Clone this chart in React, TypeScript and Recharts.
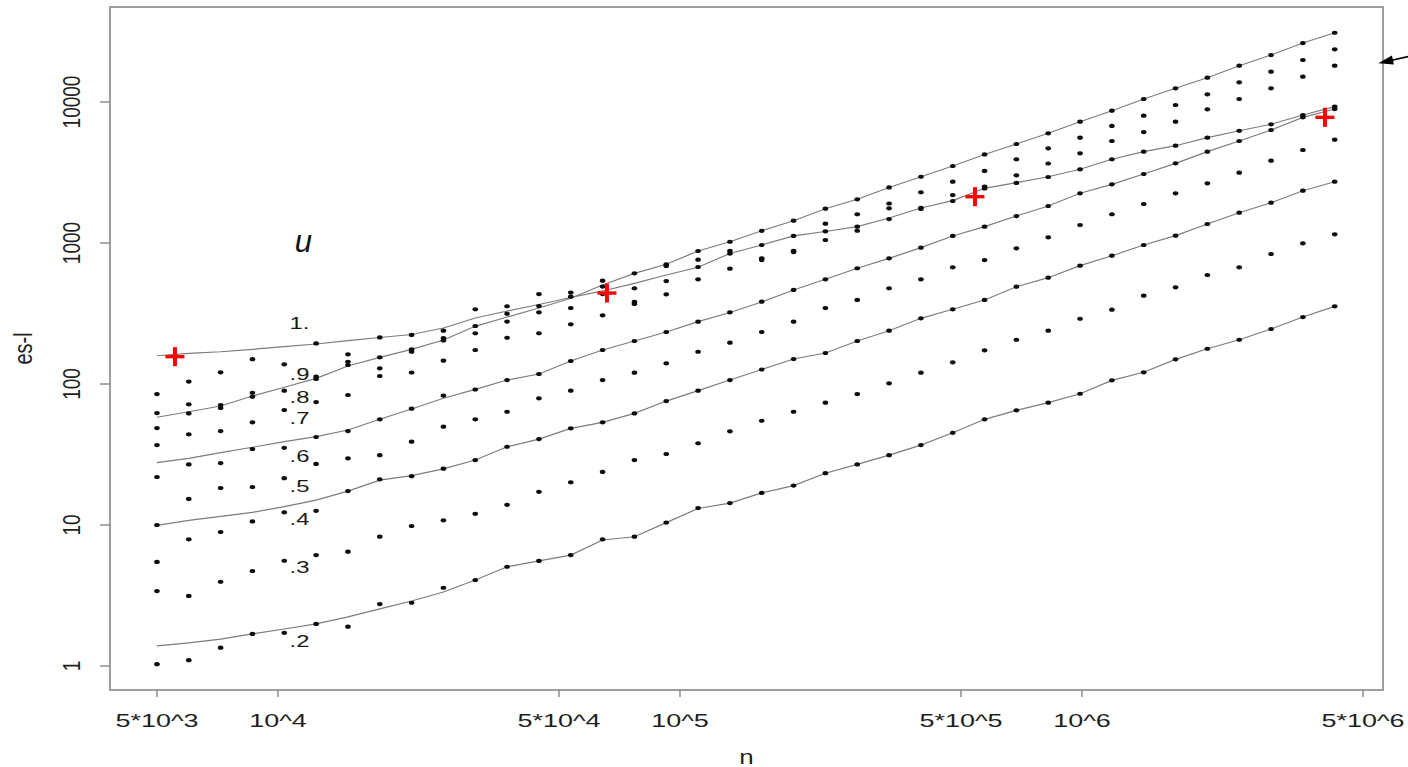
import React from 'react';
import { ScatterChart, Scatter, XAxis, YAxis, ReferenceArea } from 'recharts';

// sample sizes n (one column of dots each)
const nValues = [
  5000, 6000, 7200, 8640, 10368, 12442, 14930, 17916, 21499, 25799, 30959, 37150, 44581,
  53497, 64196, 77035, 92442, 110931, 133117, 159740, 191688, 230026, 276031, 331237,
  397484, 476981, 572377, 686853, 824223, 989068, 1186881, 1424257, 1709109, 2050931,
  2461117, 2953340, 3544008, 4252810,
];

// dots, read column by column: pts1 is the top dot of each column, pts9 the bottom one
const pts1 = [84.9, 104, 121, 150, null, 194, 162.5, 214, 223, 239, 339, 356, 434, 445, 541, 610, 706, 878, 1021, 1221, 1439, 1751, 2042, 2477, 2951, 3516, 4246, 5036, 5998, 7247, 8676, 10500, 12510, 14870, 18090, 21530, 26190, 30980];
const pts2 = [62.2, 71.8, 71.0, 86.7, 138, 112.7, 143.9, 154.6, 176.2, 211.8, 257.8, 315.2, 357.3, 416, 491, 477.5, 687, 761.6, 881.5, 968, 1122, 1371, 1599, 1906, 2291, 2721, 3243, 3925, 4695, 5585, 6761, 7998, 9523, 11340, 13800, 16410, 19860, 23650];
const pts3 = [48.7, 61.9, 67.6, 81.3, 89.7, 108.5, 136.4, 129.2, 169.4, 203.6, 229, 277.4, 322.6, 346, 434.5, 381.9, 537.5, 676, 839.5, 778.6, 881.5, 1211, 1306, 1762, 1779, 2189, 2517, 3020, 3662, 4326, 5288, 6124, 7247, 8873, 10500, 12510, 15130, 18090];
const pts4 = [36.9, 44.0, 46.4, 53.5, 65.4, 74.5, 83.6, 114, 120.7, 146.3, 174.2, 212.9, 229, 265, 307, 369.3, 432.5, 553, 657.3, 757, 863, 1050, 1222, 1479, 1742, 1986, 2437, 2666, 2939, 3333, 3925, 4444, 4898, 5585, 6252, 6950, 8085, 9268];
const pts5 = [21.9, 26.9, 27.5, 34.6, 35.3, 42.1, 46.4, 56.2, 66.8, 82.8, 91.4, 106.7, 117.8, 145.6, 174.2, 201.8, 233.8, 276.7, 322.6, 383.6, 464.5, 553, 662, 778.6, 926.5, 1122, 1306, 1553, 1830, 2252, 2608, 3085, 3674, 4444, 5288, 6329, 7786, 8914];
const pts6 = [10, 15.3, 18.3, 18.6, 21.5, 27.1, 29.7, 31.3, 39.0, 49.8, 56.2, 63.6, 79.2, 89.7, 106.7, 120.3, 140.3, 169.4, 196.3, 233.8, 276.7, 346, 394.5, 477.5, 553, 672.5, 757, 916.7, 1097, 1342, 1599, 1891, 2252, 2650, 3153, 3837, 4567, 5404];
const pts7 = [5.47, 7.92, 8.92, 10.6, 12.3, 12.6, 17.4, 21.1, 22.2, 25.1, 28.9, 35.9, 40.7, 48.5, 53.5, 61.9, 75.7, 89.7, 106.7, 126.7, 150.4, 166, 201.8, 238.8, 292.4, 338.8, 394.5, 489.8, 567.6, 690.5, 812.8, 968, 1127, 1364, 1640, 1931, 2349, 2721];
const pts8 = [3.40, 3.14, 3.96, 4.72, 5.58, 6.12, 6.47, 8.26, 9.84, 10.8, 12.0, 13.9, 17.2, 20.1, 23.8, 28.9, 31.9, 38.0, 46.2, 54.9, 63.6, 73.7, 84.9, 101.2, 120.3, 142.6, 173.4, 206.1, 238.8, 290.4, 336.5, 422.8, 485.2, 592.9, 672.5, 835.5, 995, 1153];
const pts9 = [1.03, 1.10, 1.35, 1.69, 1.72, 1.99, 1.90, 2.75, 2.81, 3.59, 4.07, 5.06, 5.56, 6.12, 7.92, 8.26, 10.4, 13.2, 14.3, 16.9, 19.05, 23.3, 26.9, 31.3, 36.9, 45.1, 56.2, 65.1, 73.7, 85.3, 106.2, 121.1, 149.6, 177.9, 206.1, 245.5, 298.5, 355.6];

// the five gray curves
const curveTop = [58.1, 63.6, 69.8, 82.2, 94.8, 109.7, 134.2, 154.6, 176.2, 205.2, 256.6, 298.5, 346, 405.5, 503.8, 609.5, 706.3, 877.5, 1021, 1221, 1439, 1751, 2042, 2477, 2951, 3516, 4246, 5036, 5998, 7247, 8676, 10500, 12510, 14870, 18090, 21530, 26190, 30980];
const curveFlat = [158.7, 165.1, 169.4, 176.2, 184, 192.2, 202.9, 213.8, 224.4, 249.6, 293.8, 329.6, 366.4, 410.5, 457, 517.8, 592.9, 672.5, 843, 968, 1122, 1207, 1306, 1504, 1771, 2000, 2443, 2678, 2951, 3333, 3925, 4444, 4898, 5585, 6252, 6950, 8085, 9268];
const curveMid = [27.7, 29.7, 32.6, 35.6, 39.0, 42.3, 47.2, 56.2, 66.5, 79.2, 91.7, 106.7, 117.8, 145.6, 174.2, 201.8, 233.8, 276.7, 321.4, 381.9, 464.5, 553, 662, 778.6, 926.5, 1122, 1306, 1553, 1830, 2252, 2608, 3085, 3674, 4444, 5288, 6329, 7786, 8914];
const curveLow = [9.95, 10.8, 11.5, 12.3, 13.5, 15.0, 17.4, 20.8, 22.4, 25.0, 28.9, 35.9, 40.7, 48.5, 53.5, 61.9, 75.7, 89.7, 106.7, 126.7, 150.4, 166, 201.8, 238.8, 292.4, 338.8, 394.5, 489.8, 567.6, 690.5, 812.8, 968, 1127, 1364, 1640, 1931, 2349, 2721];
const curveBottom = [1.39, 1.46, 1.55, 1.69, 1.83, 1.99, 2.23, 2.54, 2.89, 3.35, 4.07, 5.06, 5.56, 6.12, 7.83, 8.26, 10.4, 13.1, 14.3, 16.9, 19.05, 23.3, 26.9, 31.3, 36.9, 45.1, 56.2, 65.1, 73.7, 85.3, 106.2, 121.1, 149.6, 177.9, 206.1, 245.5, 298.5, 355.6];

// red crosses
const crossN = [5543, 65820, 541800, 4022000];
const crossY = [156.3, 441.8, 2130, 7786];

// u labels
const uLabels = ['1.', '.9', '.8', '.7', '.6', '.5', '.4', '.3', '.2'];
const uLabelY = [269.4, 118.1, 80.9, 57.4, 31.2, 19.1, 11.0, 5.04, 1.52];
const uLabelN = 11310;

const xTicks = [5000, 10000, 50000, 100000, 500000, 1000000, 5000000];
const xTickLabels = ['5*10^3', '10^4', '5*10^4', '10^5', '5*10^5', '10^6', '5*10^6'];
const yTicks = [1, 10, 100, 1000, 10000];
const yTickLabels = ['1', '10', '100', '1000', '10000'];

const X_MIN = 3821;
const X_MAX = 5608000;
const Y_MIN = 0.676;
const Y_MAX = 47180;

const FONT = '"Liberation Sans", Arial, Helvetica, sans-serif';
const AXIS_GRAY = '#8e8e8e';
const CURVE_GRAY = '#7c7c7c';

const toPoints = (vals: (number | null)[]) =>
  nValues.map((n, i) => ({ x: n, y: vals[i] })).filter((p) => p.y != null);

const dotRows = [pts1, pts2, pts3, pts4, pts5, pts6, pts7, pts8, pts9];
const curves = [curveTop, curveFlat, curveMid, curveLow, curveBottom];
const crossData = crossN.map((n, i) => ({ x: n, y: crossY[i] }));
const labelData = uLabels.map((label, i) => ({ x: uLabelN, y: uLabelY[i], label }));

const Dot = (props: any) => (
  <ellipse cx={props.cx} cy={props.cy} rx={2.8} ry={2.1} fill="#0d0d0d" />
);

const NoDot = () => <g />;

const Cross = (props: any) => {
  const { cx, cy } = props;
  return (
    <g fill="#ff0000">
      <rect x={cx - 9.5} y={cy - 1.7} width={19} height={3.4} />
      <rect x={cx - 2} y={cy - 9.5} width={4} height={19} />
    </g>
  );
};

const ULabel = (props: any) => (
  <text
    transform={`translate(${props.cx} ${props.cy}) scale(1.4 1)`}
    textAnchor="middle"
    dominantBaseline="central"
    fontSize={17}
    fontFamily={FONT}
    fill="#1a1a1a"
  >
    {props.payload.label}
  </text>
);

const UTitle = (props: any) => (
  <text
    x={props.cx}
    y={props.cy}
    textAnchor="middle"
    dominantBaseline="central"
    fontSize={31}
    fontStyle="italic"
    fontFamily={FONT}
    fill="#111"
  >
    u
  </text>
);

// arrow at the top right, drawn from its tip
const Arrow = (props: any) => {
  const { cx, cy } = props;
  return (
    <g>
      <line x1={cx + 8} y1={cy - 1.8} x2={cx + 31} y2={cy - 6.9} stroke="#000" strokeWidth={1.6} />
      <polygon
        points={`${cx},${cy} ${cx + 15.6},${cy + 1.1} ${cx + 13.7},${cy - 7.7}`}
        fill="#000"
      />
    </g>
  );
};

const XTick = (props: any) => {
  const { x, y, payload } = props;
  const i = xTicks.indexOf(payload.value);
  return (
    <text
      transform={`translate(${x} ${y + 28}) scale(1.42 1)`}
      textAnchor="middle"
      fontSize={19}
      fontFamily={FONT}
      fill="#1f1f1f"
    >
      {xTickLabels[i]}
    </text>
  );
};

const YTick = (props: any) => {
  const { x, y, payload } = props;
  const i = yTicks.indexOf(payload.value);
  return (
    <text
      transform={`translate(${x - 18} ${y}) scale(1.25 1) rotate(-90)`}
      textAnchor="middle"
      fontSize={19}
      fontFamily={FONT}
      fill="#1f1f1f"
    >
      {yTickLabels[i]}
    </text>
  );
};

const App = () => {
  return (
    <div style={{ position: 'absolute', left: 0, top: 0, width: 1408, height: 767, background: '#fff' }}>
      <ScatterChart width={1408} height={767} margin={{ top: 7, right: 25, bottom: 0, left: 0 }}>
        <XAxis
          type="number"
          dataKey="x"
          scale="log"
          domain={[X_MIN, X_MAX]}
          ticks={xTicks}
          interval={0}
          height={77}
          axisLine={false}
          tickSize={7}
          tickLine={{ stroke: AXIS_GRAY, strokeWidth: 1.5 }}
          tick={<XTick />}
          label={(p: any) => {
            const vb = p.viewBox;
            return (
              <text
                transform={`translate(${vb.x + vb.width / 2} ${vb.y + 74}) scale(1.3 1)`}
                textAnchor="middle"
                fontSize={20}
                fontFamily={FONT}
                fill="#1f1f1f"
              >
                n
              </text>
            );
          }}
        />
        <YAxis
          type="number"
          dataKey="y"
          scale="log"
          domain={[Y_MIN, Y_MAX]}
          ticks={yTicks}
          interval={0}
          width={110}
          axisLine={false}
          tickSize={10}
          tickLine={{ stroke: AXIS_GRAY, strokeWidth: 1.5 }}
          tick={<YTick />}
          label={(p: any) => {
            const vb = p.viewBox;
            return (
              <text
                transform={`translate(31.5 ${vb.y + vb.height / 2}) scale(1.28 1) rotate(-90)`}
                textAnchor="middle"
                fontSize={20}
                fontFamily={FONT}
                fill="#1f1f1f"
              >
                es-l
              </text>
            );
          }}
        />
        <ReferenceArea
          x1={X_MIN}
          x2={X_MAX}
          y1={Y_MIN}
          y2={Y_MAX}
          fill="none"
          fillOpacity={0}
          stroke="#9e9e9e"
          strokeWidth={2}
          ifOverflow="visible"
        />
        {curves.map((c, i) => (
          <Scatter
            key={`curve-${i}`}
            data={toPoints(c)}
            line={{ stroke: CURVE_GRAY, strokeWidth: 1.2 }}
            lineType="joint"
            shape={<NoDot />}
            isAnimationActive={false}
          />
        ))}
        {dotRows.map((row, i) => (
          <Scatter
            key={`row-${i}`}
            data={toPoints(row)}
            shape={<Dot />}
            isAnimationActive={false}
          />
        ))}
        <Scatter data={crossData} shape={<Cross />} isAnimationActive={false} />
        <Scatter data={labelData} shape={<ULabel />} isAnimationActive={false} />
        <Scatter data={[{ x: 11560, y: 1021 }]} shape={<UTitle />} isAnimationActive={false} />
        <Scatter data={[{ x: 5458000, y: 18820 }]} shape={<Arrow />} isAnimationActive={false} />
      </ScatterChart>
    </div>
  );
};

export default App;
